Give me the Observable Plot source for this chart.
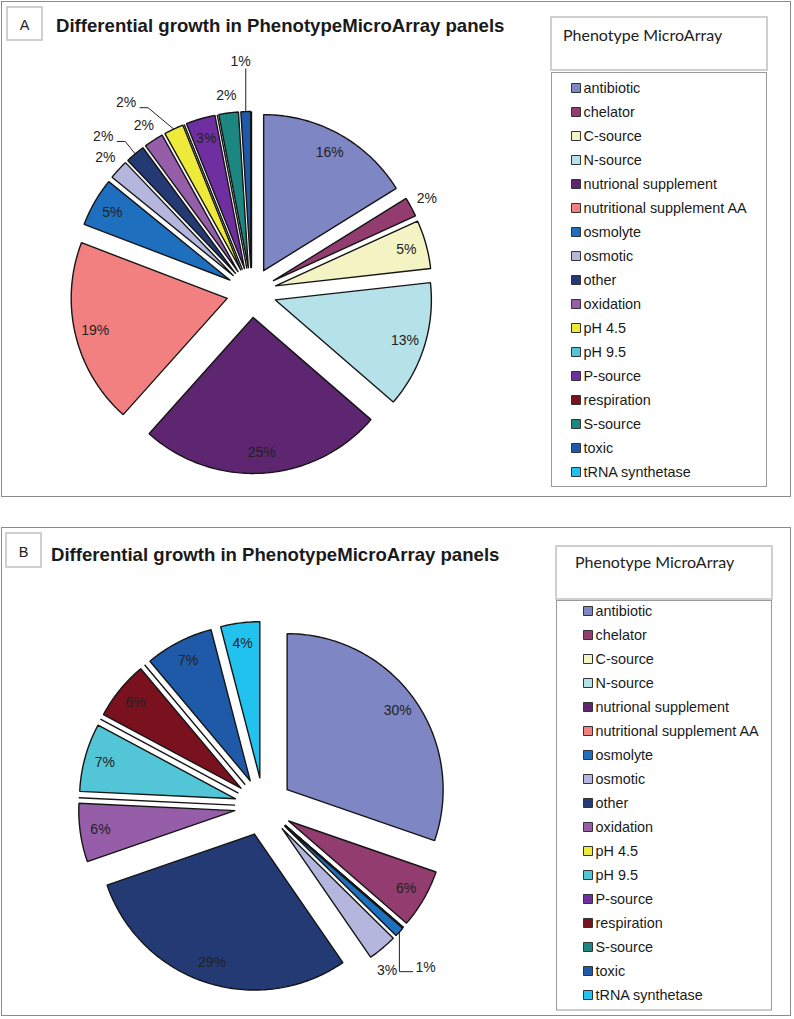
<!DOCTYPE html>
<html><head><meta charset="utf-8">
<script src="https://cdn.jsdelivr.net/npm/d3@7"></script>
<script src="https://cdn.jsdelivr.net/npm/@observablehq/plot@0.6"></script>
<style>
body{margin:0;background:#fff;}
#root{position:relative;width:794px;height:1019px;overflow:hidden;}
#root > svg, #root > .p{position:absolute;}
</style></head><body><div id="root"></div>
<script>
// ---------- data ----------
const categories = ["antibiotic","chelator","C-source","N-source","nutrional supplement","nutritional supplement AA","osmolyte","osmotic","other","oxidation","pH 4.5","pH 9.5","P-source","respiration","S-source","toxic","tRNA synthetase"];
const colors = ["#7e87c4","#923c6f","#f3f3c4","#b5e1e8","#5e2570","#f28080","#1e6fbe","#b4b6de","#233a75","#965ea8","#eeea3a","#52c6d6","#6f2fa0","#7a111f","#1b8780","#1f5aa8","#22c2ef"];
const valuesA = [16,2,5,13,25,19,5,2,2,2,2,0,3,0,2,1,0];
const valuesB = [30,6,0,0,0,0,1,3,29,6,0,7,0,6,0,7,4];
const titleText = "Differential growth in PhenotypeMicroArray panels";
const legendTitle = "Phenotype MicroArray";

// ---------- layout ----------
const panels = [
  {tag:"A", values:valuesA, box:[1.5,1.5,789,495], tagBox:[7,7,35,33], tagText:[24.5,29.5], title:[56,32],
   head:[551,17,216,53], headText:[563,41], lbox:[551.5,72.5,215,414], swatchX:575.5, textX:583, base0:89, base1:478,
   svgTop:0, svgH:500, cx:251, cy:292, r:156, explode:25, insideMin:3,
   tweaks:{"other":{r:1.22,da:-4,leader:"elbow"},"pH 4.5":{r:1.30,da:-9,leader:"elbow"},"toxic":{r:1.32,da:-1,leader:"vertical"}}},
  {tag:"B", values:valuesB, box:[1.5,527.5,789,488], tagBox:[6,533,35,34], tagText:[23.5,556.5], title:[51,561],
   head:[556,546,216,53], headText:[575,568], lbox:[556.5,600.5,215,409.5], swatchX:587.5, textX:595, base0:614.3, base1:999.3,
   svgTop:520, svgH:499, cx:263, cy:806, r:156, explode:29, insideMin:4,
   tweaks:{"osmolyte":{r:1.28,da:2.4,leader:"below"},"osmotic":{r:1.13,da:3.5}}}
];

const root = d3.select("#root");
const FONT = "'Liberation Sans', Arial, sans-serif";

// static frame (borders, titles, legend boxes)
const deco = root.append("svg").attr("width",794).attr("height",1019).style("left","0px").style("top","0px");
panels.forEach(P => {
  deco.append("rect").attr("x",P.box[0]).attr("y",P.box[1]).attr("width",P.box[2]).attr("height",P.box[3])
    .attr("fill","none").attr("stroke","#8c8c8c").attr("stroke-width",1);
  deco.append("rect").attr("x",P.tagBox[0]).attr("y",P.tagBox[1]).attr("width",P.tagBox[2]).attr("height",P.tagBox[3])
    .attr("fill","none").attr("stroke","#c4c4c4").attr("stroke-width",1.6);
  deco.append("text").attr("x",P.tagText[0]).attr("y",P.tagText[1]).attr("text-anchor","middle")
    .attr("font-family",FONT).attr("font-size",14.5).attr("fill","#222").text(P.tag);
  deco.append("text").attr("x",P.title[0]).attr("y",P.title[1]).attr("font-family",FONT).attr("font-weight","bold")
    .attr("font-size",18.6).attr("fill","#1a1a1a").text(titleText);
  deco.append("rect").attr("x",P.head[0]).attr("y",P.head[1]).attr("width",P.head[2]).attr("height",P.head[3])
    .attr("fill","none").attr("stroke","#c4c4c4").attr("stroke-width",1.6);
  deco.append("text").attr("x",P.headText[0]).attr("y",P.headText[1]).attr("font-family","Lato, 'Open Sans', sans-serif")
    .attr("font-size",16).attr("fill","#222").text(legendTitle);
  deco.append("rect").attr("x",P.lbox[0]).attr("y",P.lbox[1]).attr("width",P.lbox[2]).attr("height",P.lbox[3])
    .attr("fill","none").attr("stroke","#9a9a9a").attr("stroke-width",1);
});

function piePlot(P) {
  const rows = categories.map((cat,i)=>({cat, value:P.values[i]}));
  const arcs = d3.pie().sort(null).value(d=>d.value)(rows);
  const ex = P.explode / P.r, px = 1 / P.r;
  const poly = [], labels = [], leaders = [];
  arcs.forEach(a => {
    const cat = a.data.cat;
    const mid = (a.startAngle + a.endAngle) / 2;
    const ox = ex*Math.sin(mid), oy = ex*Math.cos(mid);
    const n = Math.max(1, Math.ceil((a.endAngle - a.startAngle) / (Math.PI/180)));
    const pts = [[ox,oy]];
    for (let k=0;k<=n;k++){ const t = a.startAngle + (a.endAngle-a.startAngle)*k/n; pts.push([ox+Math.sin(t), oy+Math.cos(t)]); }
    pts.push([ox,oy]);
    pts.forEach(([x,y]) => poly.push({cat,x,y}));
    if (a.data.value <= 0) return;
    const tw = P.tweaks[cat] || {};
    const inside = a.data.value >= P.insideMin && !tw.r;
    const rr = tw.r || (inside ? 0.87 : 1.115);
    const ang = mid + (tw.da || 0) * Math.PI/180;
    const tx = ox + rr*Math.sin(ang), ty = oy + rr*Math.cos(ang);
    labels.push({x:tx, y:ty, text:`${a.data.value}%`});
    if (tw.leader) {
      const axp = ox + Math.sin(mid), ayp = oy + Math.cos(mid);
      let L;
      if (tw.leader === "elbow") L = [[tx+14*px, ty-5*px],[tx+22*px, ty-5*px],[axp, ayp]];
      else if (tw.leader === "vertical") L = [[axp, ty-7*px],[axp, ayp]];
      else L = [[axp, ayp],[axp, ty-4*px],[tx-13*px, ty-4*px]];
      L.forEach(([x,y]) => leaders.push({id:cat,x,y}));
    }
  });
  return Plot.plot({
    width:794, height:P.svgH,
    x:{domain:[-1,1], range:[P.cx-P.r, P.cx+P.r], axis:null},
    y:{domain:[-1,1], range:[P.cy-P.svgTop+P.r, P.cy-P.svgTop-P.r], axis:null},
    color:{type:"ordinal", domain:categories, range:colors},
    style:{background:"transparent", overflow:"visible"},
    marks:[
      Plot.line(poly, {x:"x", y:"y", z:"cat", fill:"cat", stroke:"#151515", strokeWidth:1.4, strokeLinejoin:"miter", curve:"linear"}),
      Plot.line(leaders, {x:"x", y:"y", z:"id", stroke:"#222", strokeWidth:1, strokeLinejoin:"miter"}),
      Plot.text(labels, {x:"x", y:"y", text:"text", fontSize:14, fill:"#222", fontFamily:FONT, lineAnchor:"middle"})
    ]
  });
}

function legendPlot(P) {
  const left = P.lbox[0]-0.5, top = P.lbox[1]-0.5, w = 216, h = P.lbox[3]+1;
  return Plot.plot({
    width:w, height:h, margin:0,
    x:{domain:[0,1], range:[0,w], axis:null},
    y:{type:"point", domain:categories, range:[P.base0-top, P.base1-top], padding:0, axis:null},
    color:{type:"ordinal", domain:categories, range:colors},
    style:{background:"transparent", overflow:"visible"},
    marks:[
      Plot.dot(categories, {y:d=>d, frameAnchor:"left", dx:P.swatchX-left, dy:-4.5, symbol:"square", r:5.08, fill:d=>d, stroke:"#333", strokeWidth:1}),
      Plot.text(categories, {y:d=>d, frameAnchor:"left", dx:P.textX-left, text:d=>d, textAnchor:"start", lineAnchor:"bottom", fontSize:14.4, fill:"#1a1a1a", fontFamily:FONT})
    ]
  });
}

panels.forEach(P => {
  const pie = piePlot(P);
  d3.select(pie).attr("class","p").style("left","0px").style("top",P.svgTop+"px");
  root.node().appendChild(pie);
  const lg = legendPlot(P);
  d3.select(lg).attr("class","p").style("left",(P.lbox[0]-0.5)+"px").style("top",(P.lbox[1]-0.5)+"px");
  root.node().appendChild(lg);
});
</script>
</body></html>
